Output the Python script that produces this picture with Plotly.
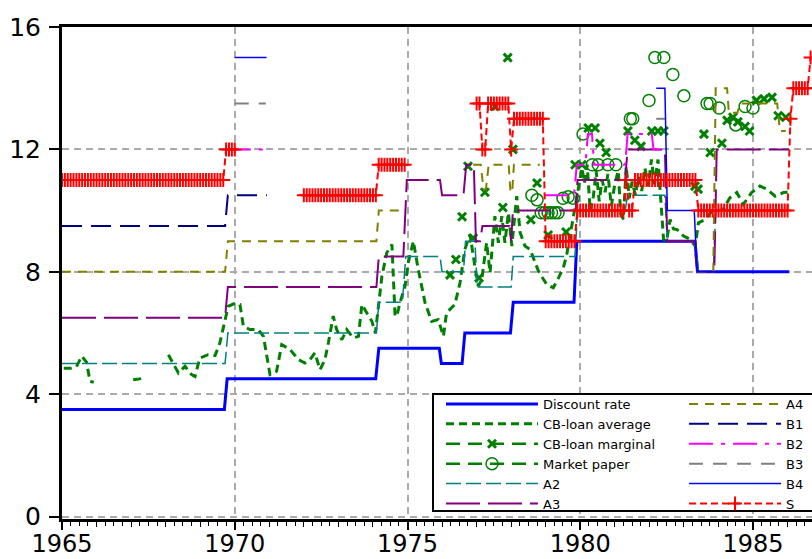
import plotly.graph_objects as go

# ---------------- data ----------------
discount_x = [1965.0, 1969.70, 1969.78, 1974.08, 1974.17, 1975.92, 1975.98, 1976.58, 1976.66,
              1977.98, 1978.06, 1979.82, 1979.90, 1983.32, 1983.40, 1986.05]
discount_y = [3.5, 3.5, 4.5, 4.5, 5.5, 5.5, 5.0, 5.0, 6.0, 6.0, 7.0, 7.0, 9.0, 9.0, 8.0, 8.0]

cb_avg_x = [1965.05, 1965.25, 1965.42, 1965.57, 1965.71, 1965.81, 1965.92, None,
            1967.06, 1967.25, 1967.40, None,
            1968.08, 1968.22, 1968.37, 1968.56, 1968.75, 1968.85, 1968.99, 1969.23, 1969.43,
            1969.57, 1969.72, 1969.81, 1969.97, 1970.15, 1970.25, 1970.44, 1970.68, 1970.83,
            1971.02, 1971.21, 1971.36, 1971.60, 1971.84, 1972.03, 1972.18, 1972.32, 1972.47,
            1972.61, 1972.71, 1972.85, 1972.95, 1973.10, 1973.24, 1973.43, 1973.58, 1973.68,
            1973.82, 1973.97, 1974.07, 1974.16, 1974.26, 1974.40, 1974.55, 1974.64, 1974.69,
            1974.78, 1974.93, 1975.02, 1975.17, 1975.31, 1975.51, 1975.70, 1975.89, 1976.04,
            1976.13, 1976.37, 1976.52, 1976.66, 1976.81, 1976.95, 1977.05, 1977.15, 1977.29,
            1977.39, 1977.53, 1977.63, 1977.73, 1977.82, 1977.92, 1978.02, 1978.16, 1978.26,
            1978.40, 1978.55, 1978.69, 1978.79, 1979.03, 1979.22, 1979.37, 1979.51, 1979.61,
            1979.75, 1979.85, 1979.95, 1980.05, 1980.12, 1980.20, 1980.29, 1980.38, 1980.46,
            1980.55, 1980.63, 1980.72, 1980.80, 1980.90, 1981.00, 1981.10, 1981.17, 1981.25,
            1981.33, 1981.42, 1981.50, 1981.60, 1981.68, 1981.78, 1981.87, 1981.97, 1982.06,
            1982.15, 1982.25, 1982.33, 1982.41, 1982.50, 1982.60, 1982.70, 1982.80, 1982.99,
            1983.18, 1983.33, 1983.42, 1983.62, 1983.76, 1983.95, 1984.14, 1984.33, 1984.53,
            1984.72, 1984.96, 1985.20, 1985.40, 1985.64, 1985.88, 1986.00]
cb_avg_y = [4.85, 4.85, 4.90, 5.24, 5.05, 4.42, 4.39, None,
            4.47, 4.50, 4.58, None,
            5.29, 5.02, 4.69, 4.91, 4.64, 4.58, 5.18, 5.29, 5.26,
            5.68, 6.44, 6.87, 6.95, 6.93, 6.22, 6.11, 6.11, 5.89,
            4.64, 4.75, 5.62, 5.46, 5.13, 5.02, 5.13, 5.35, 4.80,
            5.13, 5.68, 6.55, 6.11, 5.78, 6.11, 5.84, 5.89, 6.93,
            6.66, 6.38, 6.00, 6.87, 7.86, 8.62, 8.89, 6.55, 6.55,
            6.98, 7.53, 8.29, 9.00, 8.08, 6.98, 6.38, 6.44, 5.89,
            6.66, 6.93, 7.64, 8.73, 9.22, 8.18, 7.53, 7.75, 8.95,
            7.97, 9.82, 8.95, 9.82, 8.95, 9.93, 8.84, 10.47, 9.28,
            8.84, 8.73, 8.30, 8.02, 7.58, 7.48, 7.80, 8.13, 8.57,
            9.49, 10.15, 10.70, 11.40, 10.90, 11.50, 9.98, 10.47, 11.30,
            10.30, 11.00, 10.60, 11.20, 10.15, 10.86, 11.30, 9.90, 9.71,
            11.45, 10.40, 10.95, 10.50, 11.10, 10.64, 11.40, 10.80, 11.67,
            10.86, 11.67, 10.47, 9.06, 9.00, 9.71, 9.40, 9.38, 9.17,
            9.06, 8.84, 9.60, 9.71, 9.93, 9.98, 10.04, 10.42, 10.59,
            10.20, 10.59, 10.80, 10.70, 10.47, 10.59, 10.60]

cb_marg_x = [1976.23, 1976.40, 1976.58, 1976.75, 1976.90, 1977.07, 1977.24, 1977.53, 1977.76,
             1977.90, 1978.05, 1978.57, 1978.75, 1979.07, 1979.59, 1979.85, 1980.05, 1980.23,
             1980.43, 1980.57, 1980.75, 1981.38, 1981.58, 1981.76, 1982.07, 1982.25, 1982.42,
             1983.32, 1983.41, 1983.58, 1983.76, 1984.10, 1984.25, 1984.42, 1984.56, 1984.77,
             1984.90, 1985.10, 1985.32, 1985.55, 1985.73, 1985.95]
cb_marg_y = [7.9, 8.4, 9.8, 11.45, 9.1, 7.8, 10.6, 13.4, 10.1,
             15.0, 12.0, 9.7, 10.9, 9.2, 9.3, 11.5, 11.5, 12.7,
             12.7, 12.2, 11.9, 12.6, 12.3, 12.1, 12.6, 12.6, 12.6,
             10.8, 10.7, 12.5, 11.9, 12.2, 12.95, 13.05, 12.9, 12.75,
             12.6, 13.6, 13.65, 13.7, 13.1, 13.05]

mkt_x = [1978.60, 1978.75, 1978.87, 1978.97, 1979.07, 1979.17, 1979.27, 1979.36, 1979.50,
         1979.65, 1979.80, 1980.08, 1980.35, 1980.52, 1980.80, 1981.03, 1981.45, 1981.52,
         1981.99, 1982.16, 1982.42, 1982.68, 1983.00, 1983.67, 1983.76, 1984.02, 1984.50,
         1984.77, 1985.00]
mkt_y = [10.5, 10.35, 9.93, 9.93, 9.93, 9.93, 9.93, 9.93, 10.4,
         10.45, 10.4, 12.5, 11.5, 11.5, 11.5, 11.5, 13.0, 13.0,
         13.6, 15.0, 15.0, 14.45, 13.75, 13.5, 13.5, 13.35, 12.8,
         13.4, 13.35]

a2_x = [1965.0, 1969.72, 1969.80, 1974.10, 1974.17, 1974.85, 1974.95, 1975.94, 1976.00, 1976.62,
        1976.68, 1976.95, 1977.02, 1978.00, 1978.06, 1979.85, 1979.92, 1981.30, 1981.37, 1982.45,
        1982.52, 1983.33, 1983.42, 1983.85, 1983.92, 1986.05]
a2_y = [5.0, 5.0, 6.0, 6.0, 7.0, 7.0, 8.5, 8.5, 8.0, 8.0,
        9.0, 9.0, 7.5, 7.5, 8.5, 8.5, 10.0, 10.0, 10.5, 10.5,
        9.0, 9.0, 8.0, 8.0, 10.0, 10.0]

a3_x = [1965.0, 1969.72, 1969.80, 1974.10, 1974.17, 1974.88, 1974.98, 1975.94, 1976.00, 1976.62,
        1976.70, 1976.92, 1976.98, 1977.10, 1977.17, 1977.95, 1978.00, 1978.05, 1979.87, 1979.92,
        1981.30, 1981.37, 1982.45, 1982.52, 1983.30, 1983.38, 1983.88, 1983.95, 1986.05]
a3_y = [6.5, 6.5, 7.5, 7.5, 8.5, 8.5, 11.0, 11.0, 10.5, 10.5,
        11.5, 11.5, 9.0, 9.0, 9.5, 9.5, 9.0, 10.0, 10.0, 11.0,
        11.0, 12.0, 12.0, 9.0, 9.0, 8.0, 8.0, 12.0, 12.0]

a4_x = [1965.0, 1969.72, 1969.80, 1974.10, 1974.17, 1974.95, None,
        1976.90, 1977.12, 1977.20, 1977.27, 1977.35, 1977.93, 1977.98, 1978.03, 1978.08, 1978.83, None,
        1983.38, 1983.85, 1983.92, 1984.25, 1984.30, 1984.55, 1984.62, 1985.70, 1985.78, 1985.95]
a4_y = [8.0, 8.0, 9.0, 9.0, 10.0, 10.0, None,
        11.5, 11.5, 10.7, 10.7, 11.5, 11.5, 10.6, 10.6, 11.5, 11.5, None,
        8.0, 8.0, 14.0, 14.0, 13.2, 13.2, 13.5, 13.5, 12.6, 12.6]

b1_x = [1965.0, 1969.72, 1969.80, 1970.93]
b1_y = [9.5, 9.5, 10.5, 10.5]

b2_x = [1969.77, 1970.93, None, 1978.95, 1979.82, 1979.90, 1980.15, 1980.22, 1980.34, 1980.40,
        1981.30, 1981.37, 1982.07, 1982.12, 1982.45]
b2_y = [12.0, 12.0, None, 10.5, 10.5, 11.5, 11.5, 12.5, 12.5, 11.5,
        11.5, 12.5, 12.5, 12.0, 12.0]

b3_x = [1970.0, 1970.90, None, 1982.20, 1982.45]
b3_y = [13.5, 13.5, None, 13.0, 13.0]

b4_x = [1970.0, 1970.92, None, 1982.20, 1982.45, 1982.52, 1983.30, 1983.38, 1986.05]
b4_y = [15.0, 15.0, None, 14.0, 14.0, 10.0, 10.0, 8.0, 8.0]

# S: monthly observations from Jan 1965, as (value, number of months) runs
s_start = 1965.0
s_runs = [(11.0, 57), (12.0, 4), (None, 23), (10.5, 26), (11.5, 10), (None, 24),
          (13.5, 2), (12.0, 2), (13.5, 8), (12.0, 1), (13.0, 11), (9.0, 11), (10.0, 17),
          (11.0, 1), (10.0, 2), (11.0, 22), (10.0, 32), (13.0, 1), (14.0, 6), (15.0, 1)]

x_tickvals = [1965, 1970, 1975, 1980, 1985]
y_tickvals = [0, 4, 8, 12, 16]


def expand_runs(start, runs):
    xs, ys, m = [], [], 0
    for v, n in runs:
        for _ in range(n):
            xs.append(start + m / 12.0)
            ys.append(v)
            m += 1
    return xs, ys


def isolated(xs, ys):
    ox, oy = [], []
    for x, y in zip(xs, ys):
        ox += [x, None]
        oy += [y, None]
    return ox, oy


s_x, s_y = expand_runs(s_start, s_runs)
cbm_x, cbm_y = isolated(cb_marg_x, cb_marg_y)
mp_x, mp_y = isolated(mkt_x, mkt_y)

GREEN = "#008000"
fig = go.Figure()


def add_line(name, x, y, color, width, dash, legend, mode="lines", marker=None):
    fig.add_trace(go.Scatter(
        x=x, y=y, name=name, mode=mode, legend=legend,
        line=dict(color=color, width=width, dash=dash),
        marker=marker, connectgaps=False, hoverinfo="skip"))


add_line("Discount rate", discount_x, discount_y, "#0000FF", 3, "solid", "legend")
add_line("CB-loan average", cb_avg_x, cb_avg_y, GREEN, 3, "8px,5px", "legend")
add_line("CB-loan marginal", cbm_x, cbm_y, GREEN, 2.5, "14px,8px", "legend", mode="lines+markers",
         marker=dict(symbol="x-thin", size=8, color=GREEN, line=dict(width=3, color=GREEN)))
add_line("Market paper", mp_x, mp_y, GREEN, 2.5, "14px,8px", "legend", mode="lines+markers",
         marker=dict(symbol="circle-open", size=12, color=GREEN, line=dict(width=1.5, color=GREEN)))
add_line("A2", a2_x, a2_y, "#008080", 1.5, "15px,5px", "legend")
add_line("A3", a3_x, a3_y, "#800080", 2, "34px,8px", "legend")
add_line("A4", a4_x, a4_y, "#808000", 2, "9px,7px", "legend2")
add_line("B1", b1_x, b1_y, "#000080", 2, "20px,9px", "legend2")
add_line("B2", b2_x, b2_y, "#FF00FF", 2, "24px,8px,4px,8px", "legend2")
add_line("B3", b3_x, b3_y, "#808080", 2, "14px,10px", "legend2")
add_line("B4", b4_x, b4_y, "#0000FF", 1.5, "solid", "legend2")
add_line("S", s_x, s_y, "#FF0000", 2, "7px,4px", "legend2", mode="lines+markers",
         marker=dict(symbol="cross-thin", size=10, color="#FF0000", line=dict(width=2, color="#FF0000")))

# helper axis for yearly ticks
fig.add_trace(go.Scatter(x=[1965], y=[None], xaxis="x2", showlegend=False, hoverinfo="skip"))

X0, X1 = 1965.0, 1965.0 + 750 / 34.55
FONT = "DejaVu Sans"
PLOT_L, PLOT_W, PLOT_B, PLOT_H = 62, 750, 519, 492


def px_x(px):
    return (px - PLOT_L) / PLOT_W


def px_y(py):
    return (PLOT_B - py) / PLOT_H


legend_common = dict(orientation="v", yanchor="top", y=px_y(389),
                     borderwidth=0, bgcolor="rgba(0,0,0,0)",
                     font=dict(family=FONT, size=13, color="black"),
                     itemwidth=92, traceorder="normal", tracegroupgap=0)

fig.update_layout(
    width=812, height=559,
    margin=dict(l=62, r=0, t=27, b=40, autoexpand=False),
    paper_bgcolor="white", plot_bgcolor="white",
    font=dict(family=FONT, color="black"),
    xaxis=dict(range=[X0, X1], tickmode="array", tickvals=x_tickvals,
               ticktext=[str(v) for v in x_tickvals],
               ticks="outside", ticklen=8, tickwidth=1.5, tickcolor="black",
               tickfont=dict(family=FONT, size=24, color="black"), ticklabelstandoff=-7,
               showline=True, linewidth=3, linecolor="black", mirror=True,
               showgrid=True, gridcolor="#AAAAAA", gridwidth=1.5, griddash="7px,5px",
               zeroline=False,
               minor=dict(dtick=0.25, tick0=1965, ticks="outside", ticklen=4, tickwidth=1.2,
                          tickcolor="black", showgrid=False)),
    xaxis2=dict(range=[X0, X1], overlaying="x", anchor="y", side="bottom",
                tick0=1965, dtick=1, ticks="outside", ticklen=7, tickwidth=1.2, tickcolor="black",
                showticklabels=False, showgrid=False, showline=False, zeroline=False),
    yaxis=dict(range=[-0.08, 16.0], tickmode="array", tickvals=y_tickvals,
               ticks="outside", ticklen=10, tickwidth=1.5, tickcolor="black",
               tickfont=dict(family=FONT, size=25, color="black"), ticklabelstandoff=3,
               showline=True, linewidth=3, linecolor="black", mirror=False,
               showgrid=True, gridcolor="#AAAAAA", gridwidth=1.5, griddash="7px,5px",
               zeroline=False),
    legend=dict(x=px_x(441), xanchor="left", **legend_common),
    legend2=dict(x=px_x(684), xanchor="left", **legend_common),
    showlegend=True,
    # frame around the two legend columns (extends past the right edge like the original)
    shapes=[dict(type="rect", xref="paper", yref="paper", layer="above",
                 x0=px_x(433), x1=1.1, y0=px_y(511), y1=px_y(394),
                 line=dict(color="black", width=2), fillcolor="white")],
)

fig.write_html("out.html")
